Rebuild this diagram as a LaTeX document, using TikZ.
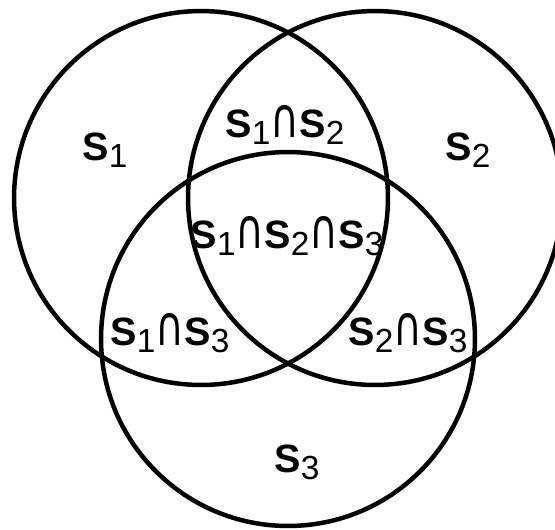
\documentclass[tikz,border=0pt]{standalone}
\usepackage{fontspec}
\setmainfont{Liberation Sans}
\newfontfamily\capfont{DejaVu Sans}
\newcommand{\idx}[1]{\raisebox{-4pt}{\fontsize{19}{19}\fontseries{m}\selectfont #1}}
\newcommand{\inter}{\scalebox{1}[1.4]{\capfont\mdseries ∩}}

\begin{document}
\begin{tikzpicture}[
  x=0.02cm, y=-0.02cm,
  set/.style={draw, circle, line width=0.09cm, minimum size=7.48cm, inner sep=0pt},
  region/.style={draw=none, inner sep=0pt, anchor=base, font=\fontsize{22.5}{26}\selectfont\bfseries}
]
\useasboundingbox (0,0) rectangle (555,529);
\clip (0,0) rectangle (555,529);
\node[set] (s1) at (201,198) {};
\node[set] (s2) at (375,198) {};
\node[set] (s3) at (288,339) {};
\node[region] (only1) at (105,160) {S\idx{1}};
\node[region] (only2) at (468,160) {S\idx{2}};
\node[region] (only3) at (297,472) {S\idx{3}};
\node[region] (cap12) at (285,137) {S\idx{1}\inter S\idx{2}};
\node[region] (cap13) at (170,345) {S\idx{1}\inter S\idx{3}};
\node[region] (cap23) at (408,345) {S\idx{2}\inter S\idx{3}};
\node[region] (cap123) at (287,248) {S\idx{1}\inter S\idx{2}\inter S\idx{3}};
\end{tikzpicture}
\end{document}
